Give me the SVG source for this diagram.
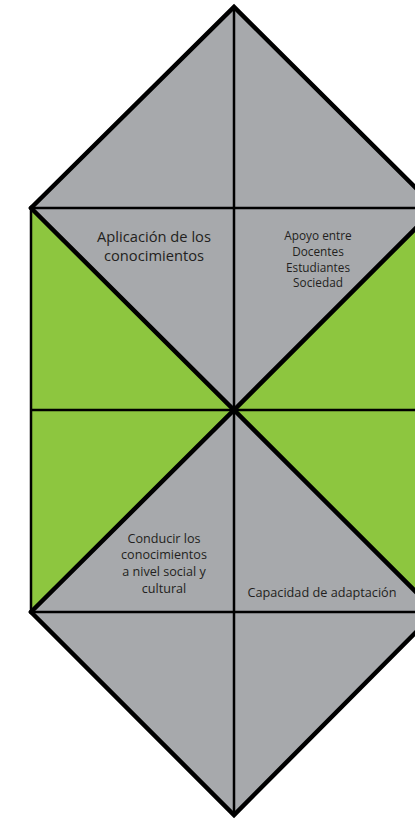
<svg xmlns="http://www.w3.org/2000/svg" width="415" height="819" viewBox="0 0 415 819">
<style>
.gray{fill:#A7A9AC}
.green{fill:#8DC63F}
.thick{stroke:#000;stroke-width:4.5;fill:none;stroke-linecap:round;stroke-linejoin:miter}
.thin{stroke:#000;stroke-width:2.5;fill:none}
text{font-family:"Open Sans","Liberation Sans",sans-serif;fill:#231F20;text-anchor:middle}
</style>
<rect width="415" height="819" fill="#fff"/>
<g id="top-diamond"><polygon class="gray" points="234,7 436,208 234,410 31,208"/></g>
<g id="bottom-diamond"><polygon class="gray" points="234,410 436,612 234,815 31,612"/></g>
<g id="left-green"><polygon class="green" points="31,208 234,410 31,612"/></g>
<g id="right-green"><polygon class="green" points="436,208 234,410 436,612"/></g>
<g id="connectors">
<line class="thin" x1="234" y1="7" x2="234" y2="815"/>
<line class="thin" x1="31" y1="208" x2="436" y2="208"/>
<line class="thin" x1="31" y1="410" x2="436" y2="410"/>
<line class="thin" x1="31" y1="612" x2="436" y2="612"/>
<line class="thin" x1="31" y1="208" x2="31" y2="612"/>
<polyline class="thick" points="31,208 234,7 436,208"/>
<polyline class="thick" points="31,612 234,815 436,612"/>
<polyline class="thick" points="31,208 234,410 436,208"/>
<polyline class="thick" points="31,612 234,410 436,612"/>
</g>
<g id="label-aplicacion">
<text x="154" y="242" font-size="14.7">Aplicación de los</text>
<text x="154" y="261" font-size="14.7">conocimientos</text>
</g>
<g id="label-apoyo">
<text x="318" y="240" font-size="11.8">Apoyo entre</text>
<text x="318" y="256" font-size="11.8">Docentes</text>
<text x="318" y="272" font-size="11.8">Estudiantes</text>
<text x="318" y="287" font-size="11.8">Sociedad</text>
</g>
<g id="label-conducir">
<text x="164" y="543" font-size="12.6">Conducir los</text>
<text x="164" y="559" font-size="12.6">conocimientos</text>
<text x="164" y="576" font-size="12.6">a nivel social y</text>
<text x="164" y="593" font-size="12.6">cultural</text>
</g>
<g id="label-capacidad">
<text x="322" y="597" font-size="12.7">Capacidad de adaptación</text>
</g>
</svg>
